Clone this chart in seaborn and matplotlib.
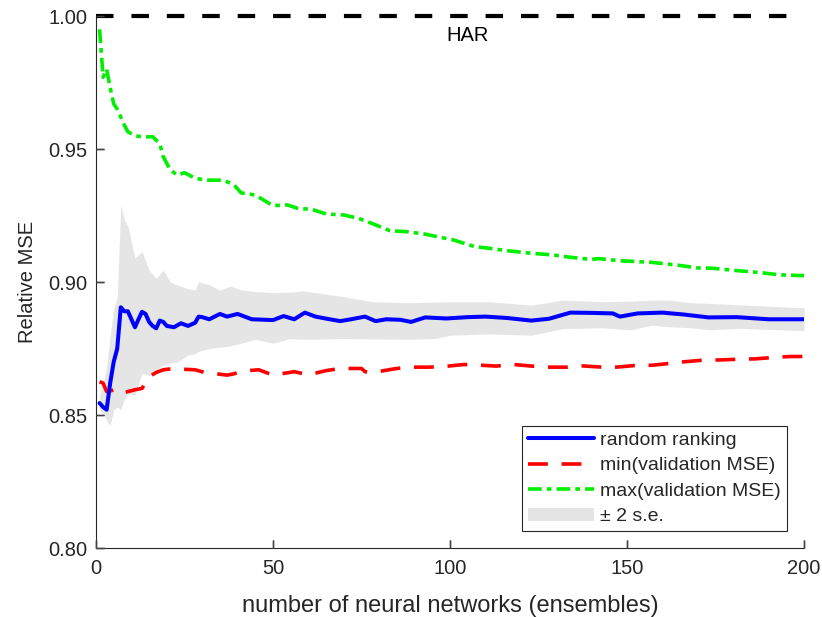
import numpy as np
import pandas as pd
import matplotlib
matplotlib.use("Agg")
import matplotlib.pyplot as plt
from matplotlib.lines import Line2D
from matplotlib.patches import Patch
from matplotlib.markers import TICKUP, TICKRIGHT
import seaborn as sns

# Relative MSE of ensembles vs. number of networks (HAR = 1)
har_level = 1.0

blue_x = [1, 2, 3, 4, 5, 6, 7, 8, 9, 10, 11, 12, 13, 14, 15, 16, 17, 18, 19, 20,
          22, 24, 26, 28, 29, 30, 32, 35, 37, 40, 44, 50, 53, 56, 59, 62, 66, 69,
          72, 76, 79, 82, 86, 89, 93, 99, 105, 110, 116, 123, 128, 134, 140, 146,
          148, 153, 160, 166, 173, 181, 190, 200]
blue_y = [0.8545, 0.853, 0.852, 0.862, 0.870, 0.875, 0.8905, 0.889, 0.889, 0.886,
          0.883, 0.886, 0.8888, 0.888, 0.885, 0.8835, 0.8826, 0.8855, 0.885, 0.8835,
          0.883, 0.8845, 0.8835, 0.8847, 0.887, 0.8868, 0.886, 0.888, 0.887, 0.888,
          0.886, 0.8857, 0.8872, 0.886, 0.8885, 0.887, 0.886, 0.8853, 0.886, 0.887,
          0.8853, 0.886, 0.8858, 0.885, 0.8867, 0.8863, 0.8868, 0.887, 0.8865,
          0.8855, 0.8862, 0.8885, 0.8884, 0.8882, 0.887, 0.8882, 0.8885, 0.8878,
          0.8867, 0.8868, 0.886, 0.886]

band_x = [1, 2, 3, 4, 5, 6, 7, 8, 9, 11, 13, 15, 17, 19, 21, 23, 26, 28, 29, 32,
          35, 38, 41, 45, 50, 55, 58, 62, 70, 78, 89, 96, 100, 111, 123, 132, 143,
          151, 157, 162, 168, 173, 182, 200]
band_hi = [0.8575, 0.862, 0.868, 0.880, 0.890, 0.8945, 0.929, 0.9233, 0.921, 0.909,
           0.9114, 0.9045, 0.9014, 0.9045, 0.900, 0.8989, 0.8975, 0.897, 0.9001,
           0.8989, 0.897, 0.8985, 0.897, 0.8965, 0.896, 0.8962, 0.8967, 0.896,
           0.8945, 0.8926, 0.8922, 0.8925, 0.8926, 0.8926, 0.8913, 0.8932, 0.8926,
           0.8928, 0.8932, 0.8932, 0.8922, 0.892, 0.8914, 0.8903]
band_lo = [0.852, 0.8506, 0.848, 0.846, 0.8519, 0.853, 0.852, 0.856, 0.858, 0.8575,
           0.8657, 0.865, 0.867, 0.8688, 0.8695, 0.870, 0.8726, 0.873, 0.874, 0.875,
           0.8755, 0.876, 0.877, 0.8785, 0.877, 0.8788, 0.8785, 0.8785, 0.8788,
           0.8786, 0.8785, 0.8788, 0.880, 0.8805, 0.880, 0.8825, 0.8828, 0.882,
           0.8838, 0.8832, 0.8828, 0.882, 0.8826, 0.8817]

red_x = [1, 2, 3, 5, 6, 7, 9, 11, 13, 15, 17, 19, 22, 25, 28, 31, 34, 37, 39, 41,
         46, 50, 56, 60, 65, 69, 75, 76, 78, 84, 88, 94, 98, 104, 109, 113, 118,
         123, 127, 133, 137, 143, 147, 153, 157, 162, 166, 172, 176, 182, 186, 191,
         196, 200]
red_y = [0.8625, 0.862, 0.8588, 0.8594, 0.8584, 0.858, 0.8588, 0.8595, 0.860,
         0.8644, 0.866, 0.867, 0.8675, 0.8672, 0.867, 0.8659, 0.8655, 0.865, 0.8655,
         0.8665, 0.867, 0.865, 0.8663, 0.8651, 0.8667, 0.8675, 0.8675, 0.8663,
         0.8659, 0.8673, 0.868, 0.868, 0.8682, 0.869, 0.8687, 0.8684, 0.869, 0.8684,
         0.868, 0.868, 0.8685, 0.868, 0.868, 0.8687, 0.8687, 0.8694, 0.870, 0.8707,
         0.8707, 0.871, 0.8711, 0.8716, 0.872, 0.872]

green_x = [1, 2, 3, 4, 5, 6, 7, 8, 9, 11, 13, 16, 18, 19, 21, 23, 25, 28, 31, 36,
           39, 41, 45, 50, 54, 57, 61, 65, 70, 74, 78, 83, 88, 93, 101, 107, 111,
           116, 123, 129, 134, 140, 142, 148, 157, 164, 170, 174, 181, 188, 193, 200]
green_y = [0.995, 0.977, 0.980, 0.973, 0.967, 0.965, 0.962, 0.959, 0.9565, 0.955,
           0.9546, 0.9546, 0.9521, 0.9471, 0.9421, 0.9402, 0.9411, 0.939, 0.9383,
           0.9383, 0.9365, 0.9335, 0.9327, 0.9287, 0.929, 0.9277, 0.9273, 0.9256,
           0.9252, 0.924, 0.922, 0.9193, 0.9189, 0.918, 0.9158, 0.9133, 0.9127,
           0.9118, 0.9108, 0.9102, 0.9093, 0.9085, 0.9088, 0.908, 0.9074, 0.9064,
           0.9053, 0.9052, 0.9043, 0.9035, 0.9027, 0.9024]

labels = ["random ranking", "min(validation MSE)", "max(validation MSE)", "\u00b1 2 s.e."]
x_ticks = [0, 50, 100, 150, 200]
y_ticks = [0.80, 0.85, 0.90, 0.95, 1.00]

axis_gray = "#262626"
tick_gray = "#444444"
sns.set_style("ticks", {
    "xtick.direction": "in", "ytick.direction": "in",
    "xtick.bottom": True, "ytick.left": True,
    "xtick.top": False, "ytick.right": False,
    "axes.edgecolor": axis_gray,
    "axes.axisbelow": False,
    "xtick.color": tick_gray, "ytick.color": tick_gray,
})
plt.rcParams.update({
    "font.family": ["Liberation Sans", "DejaVu Sans"],
    "xtick.major.size": 6, "ytick.major.size": 6,
    "xtick.major.width": 1.0, "ytick.major.width": 1.0,
    "xtick.major.pad": 8, "ytick.major.pad": 6,
    "xtick.labelsize": 14.5, "ytick.labelsize": 14.5,
    "xtick.labelcolor": axis_gray, "ytick.labelcolor": axis_gray,
})

fig = plt.figure(figsize=(8.22, 6.17), dpi=100)
ax = fig.add_axes([0.1168, 0.1118, 0.8613, 0.8622])

band_color = "#e5e5e5"
ax.fill_between(band_x, band_lo, band_hi, color=band_color, linewidth=0, zorder=1)

sns.lineplot(x=green_x, y=green_y, ax=ax, color="#00ee00", linewidth=2.6,
             estimator=None, sort=False, zorder=3)
ax.lines[-1].set_dashes([3.8, 1.4, 1.3, 1.4])

sns.lineplot(x=red_x, y=red_y, ax=ax, color="#ff0000", linewidth=2.6,
             estimator=None, sort=False, zorder=3)
ax.lines[-1].set_dashes([5.5, 3.8])

sns.lineplot(x=blue_x, y=blue_y, ax=ax, color="#0000ff", linewidth=2.9,
             estimator=None, sort=False, zorder=4)

ax.axhline(har_level, color="black", linewidth=3.0, dashes=(4.2, 4.3),
           clip_on=False, zorder=5)
ax.text(105, 0.9925, "HAR", ha="center", va="center", fontsize=14.5, color="black")

ax.set_xlim(0, 200)
ax.set_ylim(0.80, 1.00)
ax.set_xticks(x_ticks, [str(t) for t in x_ticks])
ax.set_yticks(y_ticks, [f"{t:.2f}" for t in y_ticks])
for side in ("top", "right"):
    ax.spines[side].set_visible(False)
for side in ("left", "bottom"):
    ax.spines[side].set_linewidth(0.8)

# inward tick marks along the bottom and left edges, at the tick positions
ax.plot(x_ticks, [0] * len(x_ticks), transform=ax.get_xaxis_transform(),
        linestyle="none", marker=TICKUP, markersize=6, markeredgewidth=1.0,
        color=tick_gray, clip_on=False, zorder=6)
ax.plot([0] * len(y_ticks), y_ticks, transform=ax.get_yaxis_transform(),
        linestyle="none", marker=TICKRIGHT, markersize=6, markeredgewidth=1.0,
        color=tick_gray, clip_on=False, zorder=6)
ax.set_xlim(0, 200)
ax.set_ylim(0.80, 1.00)

ax.set_xlabel("number of neural networks (ensembles)", fontsize=17,
              color=axis_gray, labelpad=12)
ax.set_ylabel("Relative MSE", fontsize=14.5, color=axis_gray, labelpad=8)

handles = [
    Line2D([], [], color="#0000ff", linewidth=2.9),
    Line2D([], [], color="#ff0000", linewidth=2.6, dashes=[5.5, 3.8]),
    Line2D([], [], color="#00ee00", linewidth=2.6, dashes=[3.8, 1.4, 1.3, 1.4]),
    Patch(facecolor=band_color, edgecolor="none"),
]
leg = ax.legend(handles, labels, loc="lower right", bbox_to_anchor=(0.976, 0.032),
                fontsize=14, frameon=True, fancybox=False, framealpha=1,
                edgecolor=axis_gray, handlelength=3.4, handletextpad=0.35,
                labelspacing=0.4, borderpad=0.3, borderaxespad=0.0)
leg.get_frame().set_linewidth(0.8)

fig.savefig("out.png", dpi=100)
